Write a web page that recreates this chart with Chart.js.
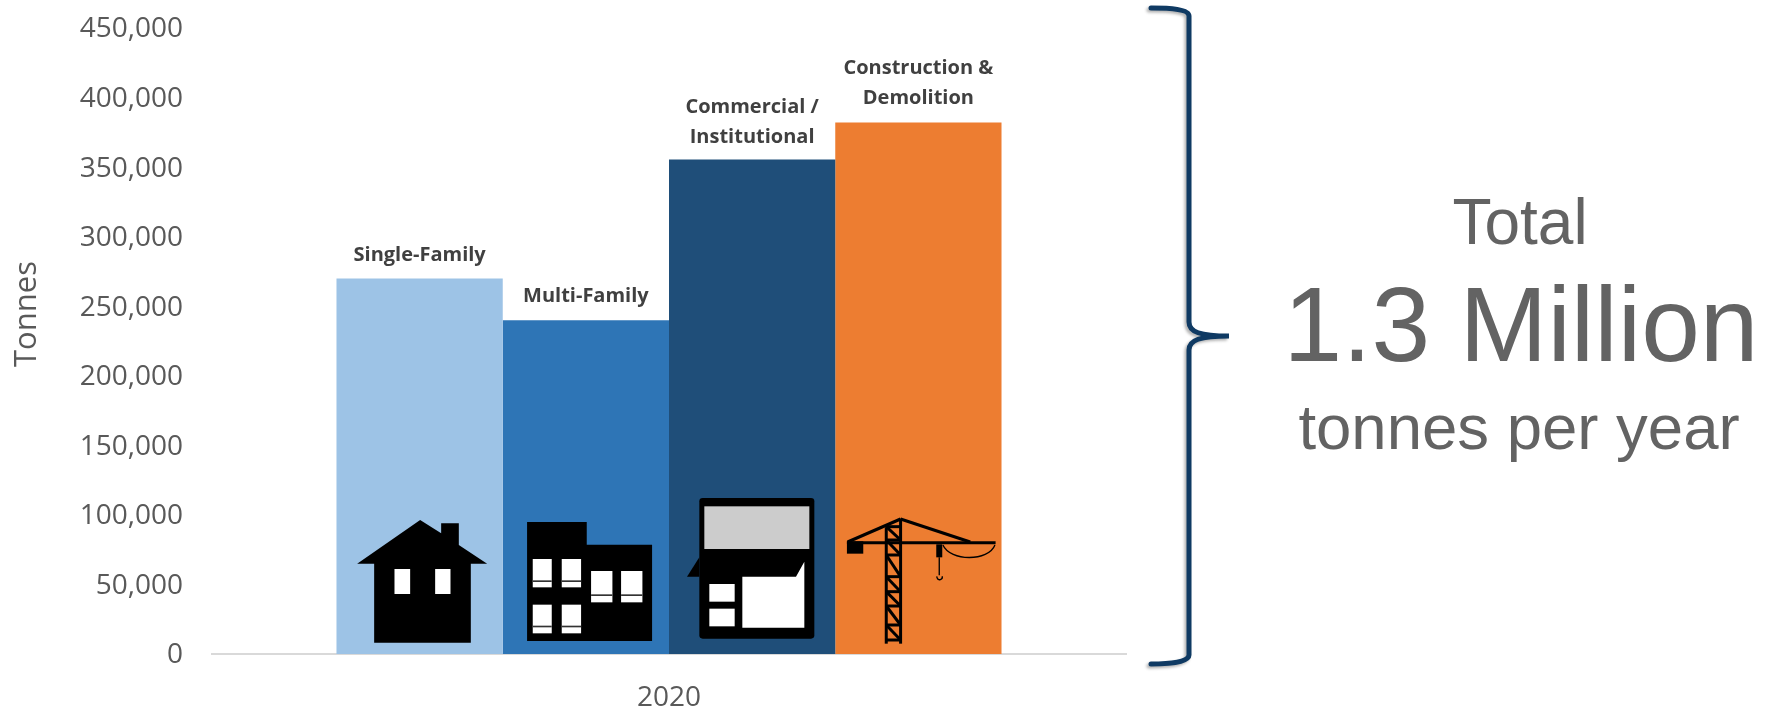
<!DOCTYPE html>
<html>
<head>
<meta charset="utf-8">
<title>Tonnes per year</title>
<script src="https://cdn.jsdelivr.net/npm/chart.js@4"></script>
<style>
  html, body { margin: 0; padding: 0; background: #fff; }
  #wrap { width: 1773px; height: 710px; }
</style>
</head>
<body>
<div id="wrap"><canvas id="myChart" width="1773" height="710"></canvas></div>
<script>
// values
const categories = ['2020'];
const seriesNames = ['Single-Family', 'Multi-Family', 'Commercial / Institutional', 'Construction & Demolition'];
const seriesValues = [270000, 240000, 355500, 382000];
const seriesColors = ['#9dc3e6', '#2e75b6', '#1f4e79', '#ed7d31'];
const barLabelLines = [['Single-Family'], ['Multi-Family'], ['Commercial /', 'Institutional'], ['Construction &', 'Demolition']];
const totalLines = ['Total', '1.3 Million', 'tonnes per year'];

const TEXT_GREY = '#595959';
const labelGaps = [23, 24, 22, 24]; // px between bar top and its label

// little pictures at the foot of the bars, drawn in 3x units, see drawIcon
function house(c) {
    poly(c, [[113,281],[302,150],[365,190],[365,160],[418,160],[418,225],[503,281],[454,281],[454,518],[164,518],[164,281]], '#000');
    rect(c, 225, 297, 272, 372, '#fff');
    rect(c, 347, 297, 393, 372, '#fff');
}

function flats(c) {
    poly(c, [[622,156],[801,156],[801,224],[997,224],[997,513],[622,513]], '#000');
    [[639,267,696,352,331],[726,267,784,352,331],[639,404,696,490,467],[726,404,784,490,467],[814,303,878,397,373],[904,303,968,397,373]].forEach(w => {
        rect(c, w[0], w[1], w[2], w[3], '#fff');
        rect(c, w[0], w[4], w[2], w[4] + 5, '#333');
    });
}

function shop(c) {
    c.fillStyle = '#000';
    c.beginPath();
    c.roundRect(118, 84, 345, 422, 10);
    c.fill();
    rect(c, 133, 109, 448, 237, '#cccccc');
    poly(c, [[118,262],[81,320],[118,320]], '#000');
    poly(c, [[247,320],[408,320],[433,275],[433,473],[247,473]], '#fff');
    rect(c, 148, 342, 224, 395, '#fff');
    rect(c, 148, 416, 224, 469, '#fff');
}

function crane(c) {
    const rungs = [170, 210, 255, 320, 365, 408, 465, 510];
    c.strokeStyle = '#000';
    c.lineWidth = 9;
    line(c, 678, 172, 678, 521);
    line(c, 721, 146, 721, 521);
    rungs.forEach((y, i) => {
        line(c, 678, y, 721, y);
        if (i < rungs.length - 1) line(c, 678, y, 721, rungs[i + 1]);
    });
    line(c, 560, 218, 1006, 218);
    line(c, 562, 216, 721, 147);
    line(c, 721, 147, 930, 216);
    rect(c, 560, 214, 609, 251, '#000');
    rect(c, 828, 223, 846, 262, '#000');
    c.lineWidth = 4;
    line(c, 837, 262, 837, 316);
    c.beginPath();
    c.arc(838, 321, 8, -0.3, Math.PI + 0.2);
    c.stroke();
    c.beginPath();
    c.moveTo(848, 225);
    c.bezierCurveTo(870, 275, 985, 275, 1004, 225);
    c.stroke();
}

const icons = [house, flats, shop, crane];
const iconOrigins = [51, 549, 27, 525]; // left edge of the bar in the icon units
const ICON_BASE = 552;

function poly(c, pts, color) {
    c.fillStyle = color;
    c.beginPath();
    pts.forEach((p, i) => i ? c.lineTo(p[0], p[1]) : c.moveTo(p[0], p[1]));
    c.closePath();
    c.fill();
}
function rect(c, x1, y1, x2, y2, color) {
    c.fillStyle = color;
    c.fillRect(x1, y1, x2 - x1, y2 - y1);
}
function line(c, x1, y1, x2, y2) {
    c.beginPath();
    c.moveTo(x1, y1);
    c.lineTo(x2, y2);
    c.stroke();
}

function drawIcon(c, i, barLeft, baseY) {
    c.save();
    c.translate(barLeft - iconOrigins[i] / 3, baseY - ICON_BASE / 3);
    c.scale(1 / 3, 1 / 3);
    icons[i](c);
    c.restore();
}

const decorations = {
    id: 'decorations',
    afterDatasetsDraw(chart) {
        const c = chart.ctx;
        const base = chart.scales.y.getPixelForValue(0);

        seriesValues.forEach((v, i) => {
            const bar = chart.getDatasetMeta(i).data[0];
            drawIcon(c, i, bar.x - bar.width / 2, base);

            // name over the bar
            c.save();
            c.fillStyle = '#404040';
            c.font = 'bold 20px "Open Sans"';
            c.textAlign = 'center';
            c.textBaseline = 'middle';
            const lines = barLabelLines[i];
            lines.forEach((t, k) => {
                c.fillText(t, bar.x, bar.y - labelGaps[i] - (lines.length - 1 - k) * 30);
            });
            c.restore();
        });

        // axis title sits a bit above the middle in the reference
        c.save();
        c.fillStyle = TEXT_GREY;
        c.font = '31px "Open Sans"';
        c.textAlign = 'center';
        c.textBaseline = 'middle';
        c.translate(27, 314);
        c.rotate(-Math.PI / 2);
        c.fillText('Tonnes', 0, 0);
        c.restore();

        // the brace
        c.save();
        c.strokeStyle = '#0f3a63';
        c.lineWidth = 5;
        c.lineCap = 'round';
        c.shadowColor = 'rgba(0,0,0,0.3)';
        c.shadowBlur = 3;
        c.shadowOffsetX = -2;
        c.shadowOffsetY = 2;
        c.beginPath();
        c.moveTo(1151, 8);
        c.bezierCurveTo(1170, 8, 1189, 9, 1189, 16);
        c.lineTo(1189, 322);
        c.bezierCurveTo(1189, 332, 1200, 336, 1229, 336);
        c.bezierCurveTo(1200, 336, 1189, 340, 1189, 350);
        c.lineTo(1189, 655);
        c.bezierCurveTo(1189, 662, 1170, 664, 1151, 664);
        c.stroke();
        c.restore();

        // total on the right
        c.save();
        c.fillStyle = '#636363';
        c.textAlign = 'center';
        c.textBaseline = 'alphabetic';
        c.font = '64px "Liberation Sans"';
        c.fillText(totalLines[0], 1520, 244);
        c.font = '105.5px "Liberation Sans"';
        c.fillText(totalLines[1], 1521, 361);
        c.font = '63.5px "Liberation Sans"';
        c.fillText(totalLines[2], 1519, 449);
        c.restore();
    }
};

document.addEventListener('DOMContentLoaded', () => {
    const ctx = document.getElementById('myChart').getContext('2d');
    new Chart(ctx, {
        type: 'bar',
        data: {
            labels: categories,
            datasets: seriesNames.map((name, i) => ({
                label: name,
                data: [seriesValues[i]],
                backgroundColor: seriesColors[i],
                borderWidth: 0,
                barPercentage: 1,
                categoryPercentage: 0.7276
            }))
        },
        options: {
            responsive: false,
            animation: false,
            layout: { padding: { top: 28, right: 647, bottom: 0, left: 0 } },
            plugins: {
                legend: { display: false },
                tooltip: { enabled: false }
            },
            scales: {
                x: {
                    afterFit: (scale) => { scale.height = 56; },
                    grid: { display: false, drawTicks: false },
                    border: { display: true, color: '#d9d9d9', width: 2 },
                    ticks: {
                        color: TEXT_GREY,
                        padding: 27,
                        font: { family: '"Open Sans"', size: 28 }
                    }
                },
                y: {
                    min: 0,
                    max: 450000,
                    afterFit: (scale) => {
                        scale.width = 212;
                        scale.paddingTop = 0;
                        scale.paddingBottom = 0;
                    },
                    grid: { display: false, drawTicks: false },
                    border: { display: false },
                    ticks: {
                        stepSize: 50000,
                        color: TEXT_GREY,
                        padding: 29,
                        labelOffset: 1.5,
                        font: { family: '"Open Sans"', size: 28 },
                        callback: (v) => v.toLocaleString('en-US')
                    }
                }
            }
        },
        plugins: [decorations]
    });
});
</script>
</body>
</html>
